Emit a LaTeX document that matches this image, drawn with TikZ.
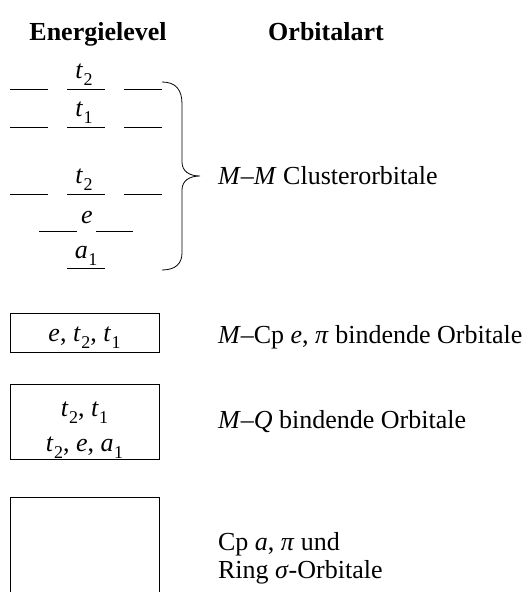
\documentclass[tikz,border=0pt]{standalone}
\usepackage{fontspec}
\setmainfont{Liberation Serif}
\newcommand{\sbs}[1]{\raisebox{-7pt}{\fontsize{18}{18}\selectfont #1}}
\newcommand{\orb}[2]{\textit{#1}\kern0.5pt\sbs{#2}}
\begin{document}
\begin{tikzpicture}[x=1pt,y=-1pt,
  every node/.style={inner sep=0pt, outer sep=0pt, font=\fontsize{26}{30}\selectfont},
  head/.style={anchor=base, font=\fontsize{26}{30}\selectfont\bfseries},
  lbl/.style={anchor=base},
  desc/.style={anchor=base west},
  lvl/.style={line width=0.9pt},
  boxline/.style={draw, line width=0.8pt, rectangle}]
\useasboundingbox (0,0) rectangle (532,592);

% headers
\node[head] (hE) at (98,40) {Energielevel};
\node[head] (hO) at (326,40) {Orbitalart};

% energy levels
\draw[lvl] (10,89) -- (48,89) (67,89) -- (105,89) (124,89) -- (162,89);
\draw[lvl] (10,127) -- (48,127) (67,127) -- (105,127) (124,127) -- (162,127);
\draw[lvl] (10,194) -- (48,194) (67,194) -- (105,194) (124,194) -- (162,194);
\draw[lvl] (39,231) -- (77,231) (96,231) -- (133,231);
\draw[lvl] (67,268) -- (105,268);

\node[lbl] (t2a) at (84,78) {\orb{t}{2}};
\node[lbl] (t1a) at (84,116) {\orb{t}{1}};
\node[lbl] (t2b) at (84,183) {\orb{t}{2}};
\node[lbl] (ea) at (87,223) {\textit{e}};
\node[lbl] (a1a) at (86,258) {\orb{a}{1}};

% brace
\coordinate (bt) at (162,82);
\coordinate (bb) at (162,270);
\coordinate (tip) at (200,176);
\draw[line width=0.8pt] (bt) .. controls (176,82) and (182,90) .. (182,104)
  -- (182,162) .. controls (182,171) and (189,176) .. (tip)
  .. controls (189,176) and (182,181) .. (182,190)
  -- (182,253) .. controls (182,263) and (176,270) .. (bb);

% descriptions
\node[desc] (dMM) at (218,184) {\textit{M}–\textit{M} Clusterorbitale};
\node[desc] (dCp) at (218,343) {\textit{M}–Cp \textit{e}, \textit{π} bindende Orbitale};
\node[desc] (dMQ) at (218,428) {\textit{M}–\textit{Q} bindende Orbitale};
\node[desc] (dR1) at (218,550) {Cp \textit{a}, \textit{π} und};
\node[desc] (dR2) at (218,578) {Ring \textit{σ}-Orbitale};

% boxes
\node[boxline, minimum width=149pt, minimum height=39pt] (b1) at (84.5,332.5) {};
\node[lbl] (b1t) at (84.5,341) {\orb{e}{}\kern-0.5pt, \orb{t}{2}, \orb{t}{1}};
\node[boxline, minimum width=149pt, minimum height=75pt] (b2) at (84.5,421.5) {};
\node[lbl] (b2t) at (84.5,416) {\orb{t}{2}, \orb{t}{1}};
\node[lbl] (b2u) at (84.5,451) {\orb{t}{2}, \textit{e}, \orb{a}{1}};
\draw[line width=0.8pt] (10,600) -- (10,497) -- (159,497) -- (159,600);
\end{tikzpicture}
\end{document}
